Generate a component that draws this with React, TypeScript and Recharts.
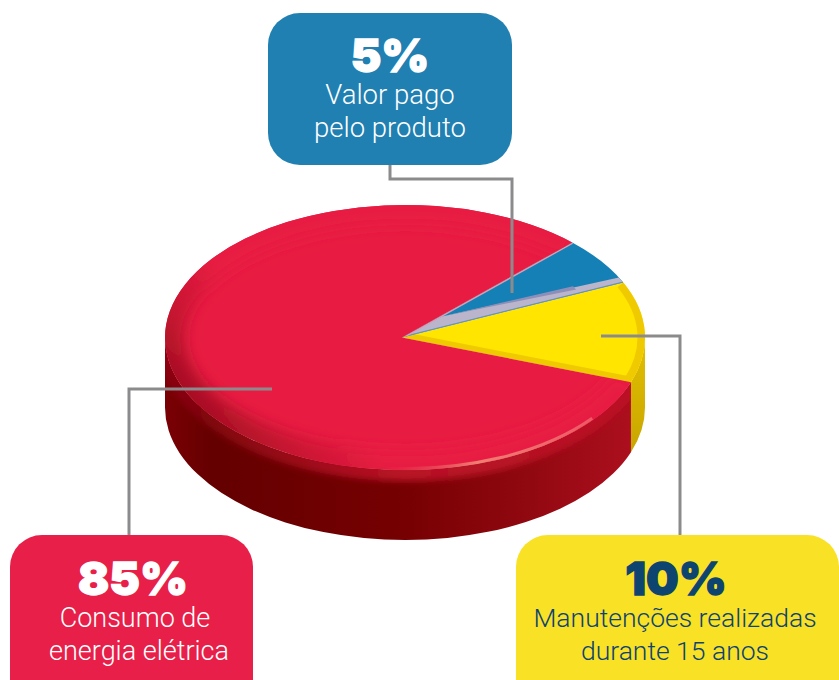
import { PieChart, Pie } from 'recharts';

const sliceNames = ['Manutenções', 'Valor pago', 'Consumo'];
// slice sizes as measured on the drawn disc (share of the full turn)
const sliceShares = [12.3, 5.9, 81.8];
const topColors = ['#ffe500', '#1580b5', '#e81c42'];
const rimColors = ['#f0ca00', '#1278aa', 'url(#redRim)'];
const wallColors = ['url(#yellowWall)', '#0f6a99', 'url(#redWall)'];

const pieData = sliceNames.map((name, i) => ({
  name,
  value: sliceShares[i],
  top: topColors[i],
  rim: rimColors[i],
  wall: wallColors[i],
}));

const TILT = 132.5 / 240;
const DEPTH = 70;
const APEX_SHIFT = -3; // the disc's wedges meet a bit left of the ellipse centre

const px = (cx: number, r: number, a: number) => cx + r * Math.cos((a * Math.PI) / 180);
const py = (cy: number, r: number, a: number) => cy - r * TILT * Math.sin((a * Math.PI) / 180);

function arcTo(cx: number, cy: number, r: number, a1: number, a2: number) {
  const large = Math.abs(a2 - a1) > 180 ? 1 : 0;
  const sweep = a2 > a1 ? 0 : 1;
  return `A${r} ${r * TILT} 0 ${large} ${sweep} ${px(cx, r, a2)} ${py(cy, r, a2)}`;
}

function sectorPath(cx: number, cy: number, r: number, a1: number, a2: number) {
  return `M${cx + APEX_SHIFT} ${cy}L${px(cx, r, a1)} ${py(cy, r, a1)}${arcTo(cx, cy, r, a1, a2)}Z`;
}

function WallSlice(props: any) {
  const { cx, cy, outerRadius: r, startAngle, endAngle, wall, name } = props;
  // only the part of the rim that faces the viewer gets a wall
  let a1 = startAngle;
  let a2 = endAngle;
  if (a1 >= 0 && a2 <= 180) return <g />;
  if (a1 > 0) a1 = 180;
  if (a1 < 0 && a2 > 0) a2 = 0;
  const d =
    `M${px(cx, r, a1)} ${py(cy, r, a1)}` +
    arcTo(cx, cy, r, a1, a2) +
    `L${px(cx, r, a2)} ${py(cy, r, a2) + DEPTH}` +
    arcTo(cx, cy + DEPTH, r, a2, a1) +
    'Z';
  const clipId = `wall-${a1 < 0 ? 'a' : 'b'}`;
  return (
    <g>
      <clipPath id={clipId}>
        <path d={d} />
      </clipPath>
      <path d={d} fill={wall} />
      {name === sliceNames[2] && (
        <path
          clipPath={`url(#${clipId})`}
          d={`M${px(cx, r, a1)} ${py(cy, r, a1) + 3}${arcTo(cx, cy + 3, r, a1, a2)}`}
          fill="none"
          stroke="url(#wallBand)"
          strokeWidth={16}
          filter="url(#soft)"
        />
      )}
    </g>
  );
}

function TopSlice(props: any) {
  const { cx, cy, outerRadius: r, startAngle, endAngle, top, rim, name } = props;
  const d = sectorPath(cx, cy, r, startAngle, endAngle);
  const clipId = `clip-${startAngle < 0 ? 'a' : startAngle < 30 ? 'b' : 'c'}`;
  const isYellow = name === sliceNames[0];
  const isBlue = name === sliceNames[1];
  const isRed = name === sliceNames[2];
  const arcOnly = `M${px(cx, r, startAngle)} ${py(cy, r, startAngle)}${arcTo(cx, cy, r, startAngle, endAngle)}`;
  const apexX = cx + APEX_SHIFT;
  return (
    <g>
      <clipPath id={clipId}>
        <path d={d} />
      </clipPath>
      <path d={d} fill={top} />
      <g clipPath={`url(#${clipId})`}>
        {isYellow && <path d={`M${apexX} ${cy}L${px(cx, r, startAngle)} ${py(cy, r, startAngle)}`} stroke={rim} strokeWidth={11} />}
        {isYellow && <path d={arcOnly} fill="none" stroke={rim} strokeWidth={15} />}
        {isRed && <path d={arcOnly} fill="none" stroke={rim} strokeWidth={40} filter="url(#softer)" />}
        {isBlue && (
          <>
            <path
              d={`M${apexX} ${cy}L${px(cx, r, startAngle)} ${py(cy, r, startAngle)}L${px(cx, r, startAngle + 2.4)} ${py(cy, r, startAngle + 2.4)}L${px(cx, r * 0.22, endAngle)} ${py(cy, r * 0.22, endAngle)}Z`}
              fill="#bab5cb"
            />
            <path
              d={`M${px(cx, r * 0.22, endAngle)} ${py(cy, r * 0.22, endAngle)}L${px(cx, r * 0.8, startAngle + 2.4)} ${py(cy, r * 0.8, startAngle + 2.4)}L${px(cx, r * 0.8, startAngle + 4.4)} ${py(cy, r * 0.8, startAngle + 4.4)}Z`}
              fill="#8e8fb9"
            />
            <path d={`M${apexX} ${cy}L${px(cx, r, startAngle)} ${py(cy, r, startAngle)}`} stroke="#5f8fc0" strokeWidth={2} />
            <path d={`M${apexX} ${cy}L${px(cx, r, endAngle)} ${py(cy, r, endAngle)}`} stroke="#c9a6bc" strokeWidth={3} />
          </>
        )}
      </g>
      {isRed && (
        <path
          d={`M${px(cx, r * 0.99, 322)} ${py(cy, r * 0.99, 322)}${arcTo(cx, cy, r * 0.99, 322, 265)}`}
          fill="none"
          stroke="url(#gloss)"
          strokeWidth={3}
        />
      )}
    </g>
  );
}

function Callout(props: { left: number; top: number; width: number; height: number; bg: string; color: string; center: number; pct: string; lines: string[]; nudges: number[]; size: number; pctTop: number; firstTop: number }) {
  const { left, top, width, height, bg, color, center, pct, lines, nudges, size, pctTop, firstTop } = props;
  const line = (text: string, x: number, y: number, style: React.CSSProperties) => (
    <div key={text} style={{ position: 'absolute', left: x - left - 200, width: 400, top: y - top, textAlign: 'center', whiteSpace: 'nowrap', ...style }}>
      {text}
    </div>
  );
  return (
    <div style={{ position: 'absolute', left, top, width, height, background: bg, color, borderRadius: 32, overflow: 'hidden' }}>
      {line(pct, center, pctTop, { fontFamily: 'Inter', fontWeight: 900, fontSize: 46, lineHeight: '56px', WebkitTextStroke: `1.3px ${color}` })}
      {lines.map((t, i) => line(t, center + nudges[i], firstTop + i * 33, { fontFamily: 'Roboto', fontWeight: 300, fontSize: size, lineHeight: '32px' }))}
    </div>
  );
}

export default function App() {
  return (
    <div style={{ position: 'absolute', left: 0, top: 0, width: 839, height: 680, overflow: 'hidden', background: '#fff' }}>
      <PieChart width={839} height={680} margin={{ top: 0, right: 0, bottom: 0, left: 0 }}>
        <defs>
          <linearGradient id="redWall" gradientUnits="userSpaceOnUse" x1="165" y1="0" x2="646" y2="0">
            <stop offset="0" stopColor="#7a0004" />
            <stop offset="0.1" stopColor="#640000" />
            <stop offset="0.5" stopColor="#760002" />
            <stop offset="0.75" stopColor="#900810" />
            <stop offset="1" stopColor="#b01020" />
          </linearGradient>
          <linearGradient id="wallBand" gradientUnits="userSpaceOnUse" x1="200" y1="0" x2="600" y2="0">
            <stop offset="0" stopColor="#b8122a" stopOpacity="0.3" />
            <stop offset="0.5" stopColor="#c01428" stopOpacity="0.9" />
            <stop offset="1" stopColor="#c01428" stopOpacity="0.8" />
          </linearGradient>
          <linearGradient id="yellowWall" x1="0" y1="0" x2="0" y2="1">
            <stop offset="0" stopColor="#e2bf00" />
            <stop offset="1" stopColor="#c9a600" />
          </linearGradient>
          <linearGradient id="redRim" gradientUnits="userSpaceOnUse" x1="430" y1="250" x2="190" y2="450">
            <stop offset="0" stopColor="#e81c42" />
            <stop offset="0.55" stopColor="#e81c42" />
            <stop offset="0.75" stopColor="#c81632" />
            <stop offset="1" stopColor="#8e0a18" />
          </linearGradient>
          <linearGradient id="gloss" gradientUnits="userSpaceOnUse" x1="592" y1="0" x2="385" y2="0">
            <stop offset="0" stopColor="#f28a80" stopOpacity="0.55" />
            <stop offset="0.55" stopColor="#f08a78" stopOpacity="0.9" />
            <stop offset="1" stopColor="#e0505a" stopOpacity="0" />
          </linearGradient>
          <filter id="soft" x="-10%" y="-20%" width="120%" height="140%">
            <feGaussianBlur stdDeviation="3" />
          </filter>
          <filter id="softer" x="-10%" y="-10%" width="120%" height="120%">
            <feGaussianBlur stdDeviation="7" />
          </filter>
        </defs>
        <Pie
          data={pieData}
          dataKey="value"
          cx={405}
          cy={337.5}
          innerRadius={0}
          outerRadius={240}
          startAngle={-19.7}
          endAngle={340.3}
          stroke="none"
          isAnimationActive={false}
          shape={WallSlice}
          inactiveShape={WallSlice}
        />
        <Pie
          data={pieData}
          dataKey="value"
          cx={405}
          cy={337.5}
          innerRadius={0}
          outerRadius={240}
          startAngle={-19.7}
          endAngle={340.3}
          stroke="none"
          isAnimationActive={false}
          shape={TopSlice}
          inactiveShape={TopSlice}
        />
      </PieChart>
      <svg width={839} height={680} style={{ position: 'absolute', left: 0, top: 0, pointerEvents: 'none' }}>
        <g fill="none" stroke="#8b8b8d" strokeWidth={3}>
          <path d="M390 165V179H512V293" />
          <path d="M601 336H680V535" />
          <path d="M272 389H129V535" />
        </g>
      </svg>
      <Callout left={268} top={13} width={244} height={152} bg="#2080b2" color="#fff" center={390} pct="5%" lines={['Valor pago', 'pelo produto']} nudges={[0, 0]} size={27.5} pctTop={27} firstTop={79} />
      <Callout left={10} top={535} width={243} height={177} bg="#e81f48" color="#fff" center={133} pct="85%" lines={['Consumo de', 'energia elétrica']} nudges={[2, 6]} size={27} pctTop={550} firstTop={602} />
      <Callout left={516} top={535} width={323} height={177} bg="#f9e126" color="#0d4470" center={676} pct="10%" lines={['Manutenções realizadas', 'durante 15 anos']} nudges={[-1, -1]} size={26.5} pctTop={550} firstTop={602} />
    </div>
  );
}
